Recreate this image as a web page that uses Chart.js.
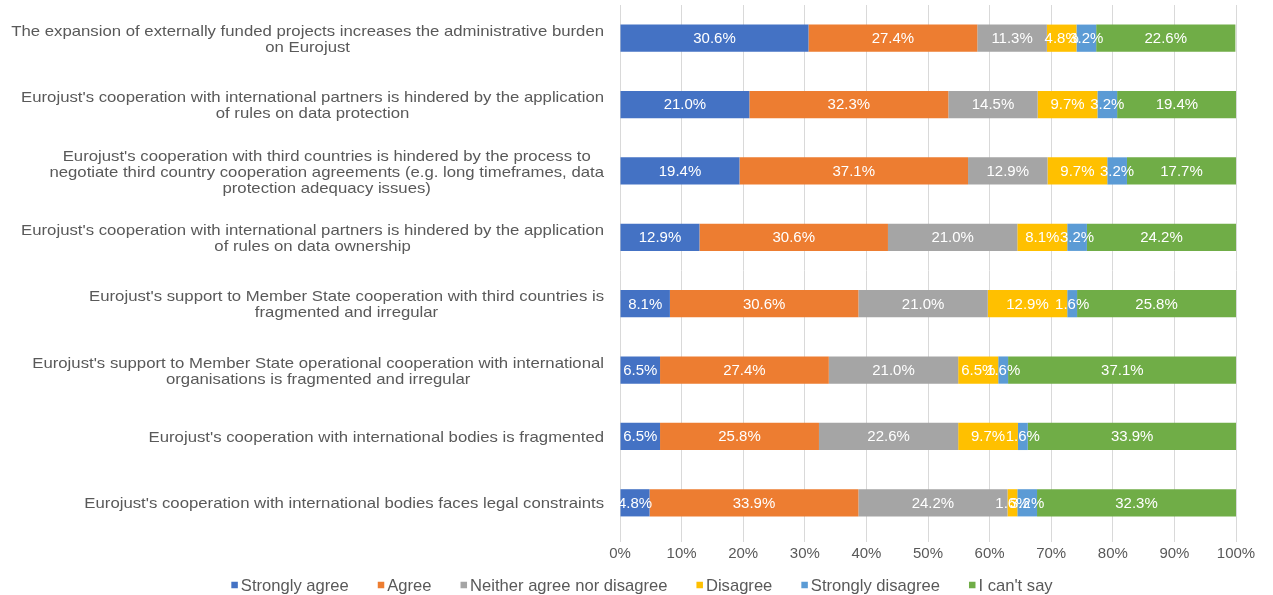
<!DOCTYPE html>
<html>
<head>
<meta charset="utf-8">
<script src="https://cdn.jsdelivr.net/npm/chart.js@4/dist/chart.umd.min.js"></script>
<style>
html,body{margin:0;padding:0;background:#fff;}
#wrap{width:1273px;height:595px;position:relative;}
</style>
</head>
<body>
<div id="wrap"><canvas id="c"></canvas></div>
<script>
const categories = [
  ["The expansion of externally funded projects increases the administrative burden", "on Eurojust"],
  ["Eurojust's cooperation with international partners is hindered by the application", "of rules on data protection"],
  ["Eurojust's cooperation with third countries is hindered by the process to", "negotiate third country cooperation agreements (e.g. long timeframes, data", "protection adequacy issues)"],
  ["Eurojust's cooperation with international partners is hindered by the application", "of rules on data ownership"],
  ["Eurojust's support to Member State cooperation with third countries is", "fragmented and irregular"],
  ["Eurojust's support to Member State operational cooperation with international", "organisations is fragmented and irregular"],
  ["Eurojust's cooperation with international bodies is fragmented"],
  ["Eurojust's cooperation with international bodies faces legal constraints"]
];
const seriesNames = ["Strongly agree", "Agree", "Neither agree nor disagree", "Disagree", "Strongly disagree", "I can't say"];
const stronglyAgree    = [30.6, 21.0, 19.4, 12.9, 8.1, 6.5, 6.5, 4.8];
const agree            = [27.4, 32.3, 37.1, 30.6, 30.6, 27.4, 25.8, 33.9];
const neither          = [11.3, 14.5, 12.9, 21.0, 21.0, 21.0, 22.6, 24.2];
const disagree         = [4.8, 9.7, 9.7, 8.1, 12.9, 6.5, 9.7, 1.6];
const stronglyDisagree = [3.2, 3.2, 3.2, 3.2, 1.6, 1.6, 1.6, 3.2];
const cantSay          = [22.6, 19.4, 17.7, 24.2, 25.8, 37.1, 33.9, 32.3];
const xTicks = [0,10,20,30,40,50,60,70,80,90,100];

const colors = ["#4472C4", "#ED7D31", "#A5A5A5", "#FFC000", "#5B9BD5", "#70AD47"];
const seriesData = [stronglyAgree, agree, neither, disagree, stronglyDisagree, cantSay];
const FONT = "'Liberation Sans', Arial, sans-serif";

const segLabels = {
  id: 'segLabels',
  afterDatasetsDraw(chart) {
    const ctx = chart.ctx;
    ctx.save();
    ctx.font = "14px " + FONT;
    ctx.fillStyle = "#ffffff";
    ctx.textAlign = "center";
    ctx.textBaseline = "middle";
    chart.data.datasets.forEach((ds, di) => {
      const meta = chart.getDatasetMeta(di);
      meta.data.forEach((el, i) => {
        const v = ds.data[i];
        const cx = (el.x + el.base) / 2;
        ctx.save();
        ctx.translate(cx, el.y + 1);
        ctx.scale(1.07, 1);
        ctx.fillText(v.toFixed(1) + "%", 0, 0);
        ctx.restore();
      });
    });
    ctx.restore();
  }
};

const catLabels = {
  id: 'catLabels',
  afterDraw(chart) {
    const ctx = chart.ctx;
    const y = chart.scales.y;
    const sx = 1.116;
    ctx.save();
    ctx.font = "15px " + FONT;
    ctx.fillStyle = "#595959";
    ctx.textAlign = "center";
    ctx.textBaseline = "middle";
    const right = chart.chartArea.left - 16;
    const lh = 16;
    categories.forEach((lines, i) => {
      const cy = y.getPixelForTick(i) + 1.5;
      let w = 0;
      lines.forEach(l => { w = Math.max(w, ctx.measureText(l).width * sx); });
      const cx = right - w / 2;
      const y0 = cy - (lines.length - 1) * lh / 2;
      lines.forEach((l, k) => {
        ctx.save();
        ctx.translate(cx, y0 + k * lh);
        ctx.scale(sx, 1);
        ctx.fillText(l, 0, 0);
        ctx.restore();
      });
    });
    ctx.restore();
  }
};

// legend drawn from the dataset labels/colours
const bottomLegend = {
  id: 'bottomLegend',
  afterDraw(chart) {
    const ctx = chart.ctx;
    ctx.save();
    ctx.font = "16.6px " + FONT;
    ctx.textBaseline = "middle";
    ctx.textAlign = "left";
    const box = 6.5, boxGap = 9.5, itemGap = 29;
    const items = chart.data.datasets.map(ds => ({ text: ds.label, color: ds.backgroundColor, w: ctx.measureText(ds.label).width }));
    let total = 0;
    items.forEach((it, i) => { total += boxGap + it.w + (i < items.length - 1 ? itemGap : 0); });
    const cxCenter = 642;
    const yc = 585;
    let x = cxCenter - total / 2;
    items.forEach(it => {
      ctx.fillStyle = it.color;
      ctx.fillRect(x, yc - box / 2, box, box);
      ctx.fillStyle = "#595959";
      ctx.fillText(it.text, x + boxGap, yc + 1);
      x += boxGap + it.w + itemGap;
    });
    ctx.restore();
  }
};

new Chart(document.getElementById('c'), {
  type: 'bar',
  data: {
    labels: categories.map(c => c.join(' ')),
    datasets: seriesNames.map((n, i) => ({
      label: n,
      data: seriesData[i],
      backgroundColor: colors[i],
      borderWidth: 0,
      barPercentage: 0.41,
      categoryPercentage: 1.0
    }))
  },
  options: {
    indexAxis: 'y',
    responsive: true,
    maintainAspectRatio: false,
    animation: false,
    layout: { padding: { top: 5, right: 37, left: 0, bottom: 33 } },
    plugins: {
      legend: { display: false },
      tooltip: { enabled: false }
    },
    scales: {
      x: {
        stacked: true,
        min: 0,
        max: 100,
        afterBuildTicks(scale) { scale.ticks = xTicks.map(v => ({ value: v })); },
        afterFit(scale) { scale.height = 26; },
        ticks: {
          callback: v => v + '%',
          font: { family: FONT, size: 15 },
          color: '#595959',
          padding: 3
        },
        grid: { color: '#d9d9d9', lineWidth: 1, tickLength: 6, drawTicks: true },
        border: { display: false }
      },
      y: {
        stacked: true,
        ticks: { display: false },
        grid: { display: false },
        border: { display: false },
        afterFit(scale) { scale.width = 620; }
      }
    }
  },
  plugins: [segLabels, catLabels, bottomLegend]
});
</script>
</body>
</html>
